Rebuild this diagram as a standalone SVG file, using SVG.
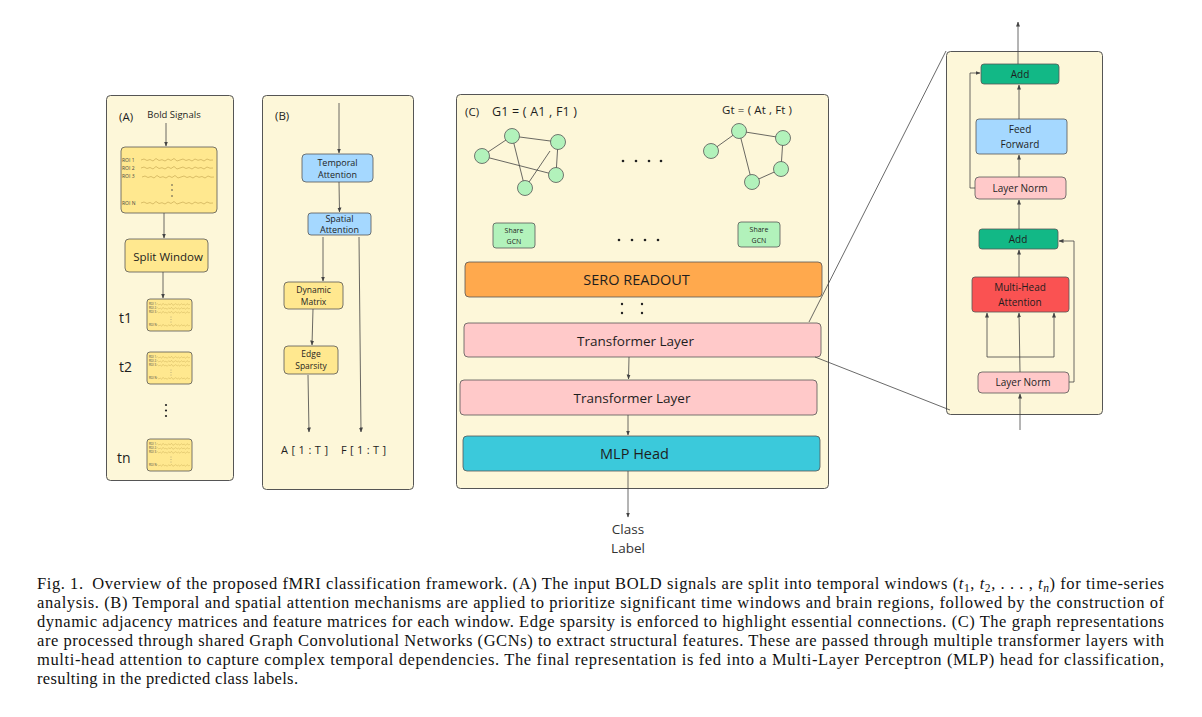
<svg xmlns="http://www.w3.org/2000/svg" xmlns:xlink="http://www.w3.org/1999/xlink" width="1202" height="717" viewBox="0 0 1202 717">
<style>
.panel{fill:#fdf7d9;stroke:#555;stroke-width:1}
.yel{fill:#ffe88f;stroke:#555;stroke-width:0.8}
.blue{fill:#a5d8ff;stroke:#555;stroke-width:0.8}
.green{fill:#b2f2bb;stroke:#555;stroke-width:0.8}
.pink{fill:#ffc9c9;stroke:#555;stroke-width:0.8}
.add{fill:#12b886;stroke:#555;stroke-width:0.8}
.t{font-family:"Open Sans","Noto Sans",sans-serif;fill:#1e1e1e;text-anchor:middle}
.l{font-family:"Open Sans","Noto Sans",sans-serif;fill:#1e1e1e}
.roi{font-family:"Open Sans",sans-serif;fill:#444;font-size:5px}
.wave{fill:none;stroke:#c9aa55;stroke-width:0.7;stroke-linejoin:round}
.edge{stroke:#444;stroke-width:0.8;fill:none}
.c{stroke:#444;stroke-width:0.8;fill:none}
.ca{stroke:#444;stroke-width:0.8;fill:none;marker-end:url(#ah)}
.cap{font-family:"Liberation Serif","Times New Roman",serif;font-size:16.5px;fill:#111}
</style>
<defs>
<marker id="ah" viewBox="0 0 10 10" refX="9" refY="5" markerWidth="5" markerHeight="5" orient="auto" markerUnits="userSpaceOnUse">
<path d="M0,1 L10,5 L0,9 z" fill="#444"/>
</marker>
<polyline id="wv" class="wave" points="0,0 3,-1 6,0.5 9,-0.5 12,1 15,-1.5 18,0.5 21,-0.3 24,1 27,-1 30,0.5 33,-1.5 36,1 39,0 42,-1 45,0.5 48,-0.5 51,1 54,-1 57,0.3 60,-0.5 63,1 66,-1 69,0.2 72,0"/>
<g id="mini">
<rect x="0" y="0" width="45" height="32" rx="3" class="yel"/>
<text x="2" y="6" class="roi" style="font-size:2.8px">ROI 1</text>
<text x="2" y="10" class="roi" style="font-size:2.8px">ROI 2</text>
<text x="2" y="14" class="roi" style="font-size:2.8px">ROI 3</text>
<text x="2" y="27" class="roi" style="font-size:2.8px">ROI N</text>
<use xlink:href="#wv" transform="translate(9,5.5) scale(0.47,0.8)"/>
<use xlink:href="#wv" transform="translate(9,9.5) scale(0.47,0.8)"/>
<use xlink:href="#wv" transform="translate(9,13.5) scale(0.47,0.8)"/>
<use xlink:href="#wv" transform="translate(9,26.5) scale(0.47,0.8)"/>
<circle cx="24" cy="18" r="0.4" fill="#666"/>
<circle cx="24" cy="20.5" r="0.4" fill="#666"/>
<circle cx="24" cy="23" r="0.4" fill="#666"/>
</g>
</defs>

<rect width="1202" height="717" fill="#fff"/>

<!-- Panels -->
<g id="panelA">
<rect x="106.5" y="95.5" width="127" height="385" rx="4" class="panel"/>
<text x="119" y="121" class="l" style="font-size:11.5px">(A)</text>
</g>
<g id="panelB">
<rect x="262.5" y="95.5" width="151" height="394" rx="4" class="panel"/>
<text x="275" y="120" class="l" style="font-size:11.5px">(B)</text>
</g>
<g id="panelC">
<rect x="456.5" y="94.5" width="372" height="394" rx="4" class="panel"/>
<text x="465" y="116" class="l" style="font-size:11.5px">(C)</text>
</g>
<g id="panelT">
<rect x="946.5" y="51.5" width="156" height="363" rx="4" class="panel"/>
</g>

<!-- Panel A nodes -->
<g id="boldLabel"><text x="174" y="118" class="t" style="font-size:9.5px">Bold Signals</text></g>
<g id="signals">
<rect x="121" y="147" width="96" height="66" rx="4" class="yel"/>
<text x="122" y="162" class="roi">ROI 1</text>
<text x="122" y="170" class="roi">ROI 2</text>
<text x="122" y="178" class="roi">ROI 3</text>
<text x="122" y="205" class="roi">ROI N</text>
<use xlink:href="#wv" transform="translate(141,160)"/>
<use xlink:href="#wv" transform="translate(141,168)"/>
<use xlink:href="#wv" transform="translate(142,177)"/>
<use xlink:href="#wv" transform="translate(141,203)"/>
<circle cx="172" cy="185" r="0.8" fill="#444"/>
<circle cx="172" cy="190" r="0.8" fill="#444"/>
<circle cx="172" cy="196" r="0.8" fill="#444"/>
</g>
<g id="split">
<rect x="125" y="239" width="83" height="33" rx="4" class="yel"/>
<text x="168" y="261" class="t" style="font-size:11.5px">Split Window</text>
</g>
<g id="w1"><use xlink:href="#mini" x="147" y="299"/><text x="119" y="323" class="l" style="font-size:14px">t1</text></g>
<g id="w2"><use xlink:href="#mini" x="147" y="352"/><text x="119" y="372" class="l" style="font-size:14px">t2</text></g>
<g id="wdots">
<circle cx="166" cy="405" r="1.1" fill="#222"/>
<circle cx="166" cy="410.5" r="1.1" fill="#222"/>
<circle cx="166" cy="416" r="1.1" fill="#222"/>
</g>
<g id="wn"><use xlink:href="#mini" x="147" y="439"/><text x="117" y="463" class="l" style="font-size:14px">tn</text></g>

<!-- Panel B nodes -->
<g id="tatt">
<rect x="302" y="154" width="71" height="28" rx="4" class="blue"/>
<text x="337.5" y="165.5" class="t" style="font-size:9px">Temporal</text>
<text x="337.5" y="177.5" class="t" style="font-size:9px">Attention</text>
</g>
<g id="satt">
<rect x="308" y="213" width="63" height="22" rx="3" class="blue"/>
<text x="339.5" y="221.5" class="t" style="font-size:9px">Spatial</text>
<text x="339.5" y="233" class="t" style="font-size:9px">Attention</text>
</g>
<g id="dmat">
<rect x="284" y="282" width="59" height="27" rx="4" class="yel"/>
<text x="313.5" y="293" class="t" style="font-size:8.5px">Dynamic</text>
<text x="313.5" y="305" class="t" style="font-size:8.5px">Matrix</text>
</g>
<g id="esp">
<rect x="284" y="346" width="54" height="28" rx="4" class="yel"/>
<text x="311" y="357" class="t" style="font-size:8.5px">Edge</text>
<text x="311" y="369" class="t" style="font-size:8.5px">Sparsity</text>
</g>
<g id="aout"><text x="281" y="454" class="l" style="font-size:11px" textLength="47" lengthAdjust="spacing">A [ 1 : T ]</text></g>
<g id="fout"><text x="341" y="454" class="l" style="font-size:11px" textLength="45" lengthAdjust="spacing">F [ 1 : T ]</text></g>

<!-- Panel C -->
<g id="g1">
<text x="492" y="116" class="l" style="font-size:12.5px" textLength="85" lengthAdjust="spacing">G1 = ( A1 , F1 )</text>
<line x1="482" y1="156" x2="512" y2="136" class="edge"/>
<line x1="512" y1="136" x2="558" y2="142" class="edge"/>
<line x1="512" y1="136" x2="525" y2="188" class="edge"/>
<line x1="482" y1="156" x2="556" y2="175" class="edge"/>
<line x1="558" y1="142" x2="556" y2="175" class="edge"/>
<line x1="525" y1="188" x2="550" y2="151" class="edge"/>
<circle cx="482" cy="156" r="7.5" class="green"/>
<circle cx="512" cy="136" r="7.5" class="green"/>
<circle cx="558" cy="142" r="7.5" class="green"/>
<circle cx="556" cy="175" r="7.5" class="green"/>
<circle cx="525" cy="188" r="7.5" class="green"/>
</g>
<g id="gt">
<text x="722" y="114" class="l" style="font-size:11.5px" textLength="70" lengthAdjust="spacing">Gt = ( At , Ft )</text>
<line x1="711" y1="151" x2="739" y2="131" class="edge"/>
<line x1="739" y1="131" x2="783" y2="138" class="edge"/>
<line x1="783" y1="138" x2="781" y2="169" class="edge"/>
<line x1="781" y1="169" x2="752" y2="182" class="edge"/>
<line x1="739" y1="131" x2="752" y2="182" class="edge"/>
<circle cx="711" cy="151" r="7.5" class="green"/>
<circle cx="739" cy="131" r="7.5" class="green"/>
<circle cx="783" cy="138" r="7.5" class="green"/>
<circle cx="781" cy="169" r="7.5" class="green"/>
<circle cx="752" cy="182" r="7.5" class="green"/>
</g>
<g id="gdots">
<circle cx="623" cy="161" r="1.3" fill="#222"/><circle cx="636" cy="161" r="1.3" fill="#222"/><circle cx="649" cy="161" r="1.3" fill="#222"/><circle cx="661" cy="161" r="1.3" fill="#222"/>
</g>
<g id="gcn1">
<rect x="493" y="223" width="42" height="25" rx="3" class="green"/>
<text x="514" y="233" class="t" style="font-size:7px">Share</text>
<text x="514" y="244" class="t" style="font-size:7px">GCN</text>
</g>
<g id="gcndots">
<circle cx="619" cy="240" r="1.3" fill="#222"/><circle cx="632" cy="240" r="1.3" fill="#222"/><circle cx="645" cy="240" r="1.3" fill="#222"/><circle cx="658" cy="240" r="1.3" fill="#222"/>
</g>
<g id="gcnt">
<rect x="738" y="222" width="42" height="25" rx="3" class="green"/>
<text x="759" y="232" class="t" style="font-size:7px">Share</text>
<text x="759" y="243" class="t" style="font-size:7px">GCN</text>
</g>
<g id="sero">
<rect x="465" y="262" width="357" height="35" rx="4" fill="#ffa94d" stroke="#555" stroke-width="0.8"/>
<text x="636.5" y="285" class="t" style="font-size:14.5px">SERO READOUT</text>
</g>
<g id="tdots">
<circle cx="622" cy="304" r="1.2" fill="#222"/><circle cx="622" cy="313" r="1.2" fill="#222"/>
<circle cx="642" cy="304" r="1.2" fill="#222"/><circle cx="642" cy="313" r="1.2" fill="#222"/>
</g>
<g id="tl1">
<rect x="464" y="323" width="357" height="34" rx="4" class="pink"/>
<text x="635.5" y="345.5" class="t" style="font-size:13.5px">Transformer Layer</text>
</g>
<g id="tl2">
<rect x="460" y="380" width="357" height="35" rx="4" class="pink"/>
<text x="632" y="402.5" class="t" style="font-size:13.5px">Transformer Layer</text>
</g>
<g id="mlp">
<rect x="463" y="436" width="357" height="35" rx="4" fill="#3bc9db" stroke="#555" stroke-width="0.8"/>
<text x="634.5" y="459" class="t" style="font-size:14.5px">MLP Head</text>
</g>
<g id="cls">
<text x="628" y="534" class="t" style="font-size:13.5px;fill:#333">Class</text>
<text x="628" y="553" class="t" style="font-size:13.5px;fill:#333">Label</text>
</g>

<!-- Transformer block detail -->
<g id="add2">
<rect x="981" y="64" width="78" height="20" rx="3" class="add"/>
<text x="1020" y="78" class="t" style="font-size:10px">Add</text>
</g>
<g id="ff">
<rect x="976" y="119" width="91" height="35" rx="3" class="blue"/>
<text x="1020" y="133" class="t" style="font-size:10px">Feed</text>
<text x="1020" y="148" class="t" style="font-size:10px">Forward</text>
</g>
<g id="ln2">
<rect x="975" y="177" width="91" height="22" rx="4" class="pink"/>
<text x="1020" y="192" class="t" style="font-size:10px">Layer Norm</text>
</g>
<g id="add1">
<rect x="979" y="229" width="79" height="20" rx="3" class="add"/>
<text x="1018" y="243" class="t" style="font-size:10px">Add</text>
</g>
<g id="mha">
<rect x="972" y="277" width="97" height="35" rx="3" fill="#fa5252" stroke="#555" stroke-width="0.8"/>
<text x="1020" y="291" class="t" style="font-size:10px">Multi-Head</text>
<text x="1020" y="306" class="t" style="font-size:10px">Attention</text>
</g>
<g id="ln1">
<rect x="978" y="372" width="91" height="21" rx="4" class="pink"/>
<text x="1023" y="386" class="t" style="font-size:10px">Layer Norm</text>
</g>

<!-- Connectors -->
<g id="connectors">
<line x1="166" y1="123" x2="166" y2="146" class="ca"/>
<line x1="164" y1="213" x2="164" y2="238" class="ca"/>
<line x1="163" y1="272" x2="163" y2="298" class="ca"/>
<line x1="339" y1="103" x2="339" y2="153" class="ca"/>
<line x1="339" y1="182" x2="339.5" y2="212" class="ca"/>
<line x1="323" y1="237" x2="323" y2="281" class="ca"/>
<line x1="313" y1="309" x2="312" y2="345" class="ca"/>
<line x1="308" y1="375" x2="309" y2="432" class="ca"/>
<line x1="359" y1="237" x2="361" y2="432" class="ca"/>
<line x1="629" y1="357" x2="628.5" y2="379" class="ca"/>
<line x1="628" y1="415" x2="628" y2="435" class="ca"/>
<line x1="628" y1="471" x2="628" y2="517" class="ca"/>
<line x1="809" y1="322" x2="946" y2="51" class="c"/>
<line x1="815" y1="357" x2="950" y2="410" class="c"/>
<line x1="1018" y1="64" x2="1018" y2="22" class="ca"/>
<line x1="1019" y1="119" x2="1019" y2="85" class="ca"/>
<line x1="1019" y1="177" x2="1019" y2="155" class="ca"/>
<polyline points="975,188 970,188 970,73 980,73" class="ca"/>
<line x1="1019" y1="229" x2="1019" y2="200" class="ca"/>
<line x1="1019" y1="277" x2="1019" y2="250" class="ca"/>
<line x1="1020" y1="372" x2="1019" y2="313" class="ca"/>
<polyline points="1020,357 987,357 987,313" class="ca"/>
<polyline points="1020,357 1054,357 1054,313" class="ca"/>
<polyline points="1069,382 1074,382 1074,241 1059,241" class="ca"/>
<line x1="1020" y1="430" x2="1020" y2="394" class="ca"/>
</g>

<!-- Caption -->
<g id="caption">
<text x="37" y="589" class="cap" textLength="1127" lengthAdjust="spacing">Fig. 1. <tspan dx="4">Overview of the proposed fMRI classification framework. (A) The input BOLD signals are split into temporal windows (</tspan><tspan font-style="italic">t</tspan><tspan font-size="11.5" dy="3">1</tspan><tspan dy="-3">, </tspan><tspan font-style="italic">t</tspan><tspan font-size="11.5" dy="3">2</tspan><tspan dy="-3">, . . . , </tspan><tspan font-style="italic">t</tspan><tspan font-size="11.5" font-style="italic" dy="3">n</tspan><tspan dy="-3">) for time-series</tspan></text>
<text x="37" y="608" class="cap" textLength="1127" lengthAdjust="spacing">analysis. (B) Temporal and spatial attention mechanisms are applied to prioritize significant time windows and brain regions, followed by the construction of</text>
<text x="37" y="627" class="cap" textLength="1127" lengthAdjust="spacing">dynamic adjacency matrices and feature matrices for each window. Edge sparsity is enforced to highlight essential connections. (C) The graph representations</text>
<text x="37" y="646" class="cap" textLength="1127" lengthAdjust="spacing">are processed through shared Graph Convolutional Networks (GCNs) to extract structural features. These are passed through multiple transformer layers with</text>
<text x="37" y="665" class="cap" textLength="1127" lengthAdjust="spacing">multi-head attention to capture complex temporal dependencies. The final representation is fed into a Multi-Layer Perceptron (MLP) head for classification,</text>
<text x="37" y="684" class="cap" textLength="261" lengthAdjust="spacing">resulting in the predicted class labels.</text>
</g>
</svg>
